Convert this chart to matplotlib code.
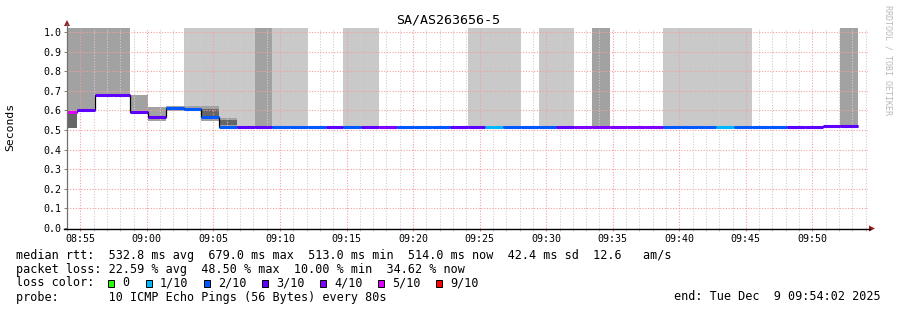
import numpy as np
import matplotlib.pyplot as plt
from matplotlib.patches import Polygon, Rectangle
from matplotlib.lines import Line2D

W, H = 897, 310
MONO = "DejaVu Sans Mono"

title = "SA/AS263656-5"
x_ticks = [0, 5, 10, 15, 20, 25, 30, 35, 40, 45, 50, 55]      # minutes after 08:55
x_labels = ["08:55", "09:00", "09:05", "09:10", "09:15", "09:20",
            "09:25", "09:30", "09:35", "09:40", "09:45", "09:50"]
y_ticks = [0.0, 0.1, 0.2, 0.3, 0.4, 0.5, 0.6, 0.7, 0.8, 0.9, 1.0]

# 80 s steps, first one starts 08:53:26
step = 80 / 60
first_start = -94 / 60

# median rtt (s) per step
median = [0.592, 0.604, 0.677, 0.677, 0.590, 0.565, 0.611, 0.609, 0.565, 0.517,
          0.514, 0.514, 0.514, 0.514, 0.515, 0.514, 0.514, 0.514, 0.513, 0.513,
          0.513, 0.513, 0.513, 0.514, 0.514, 0.514, 0.514, 0.514, 0.514, 0.513,
          0.513, 0.513, 0.513, 0.513, 0.513, 0.513, 0.513, 0.513, 0.513, 0.513,
          0.513, 0.514, 0.514, 0.519, 0.519]
# lost pings out of 10 per step
loss = [5, 3, 3, 3, 3, 3, 2, 2, 2, 2,
        3, 3, 2, 2, 2, 3, 2, 3, 4, 2,
        2, 2, 3, 3, 1, 2, 2, 2, 3, 4,
        4, 4, 4, 4, 2, 2, 2, 1, 2, 2,
        2, 3, 3, 3, 3]

# smoke: medium grey range
mid_idx = [0, 1, 2, 3, 4, 5, 6, 7, 8, 9, 11, 30, 44]
mid_lo = [0.590, 0.604, 0.677, 0.677, 0.590, 0.548, 0.595, 0.595, 0.548, 0.514, 0.514, 0.514, 0.519]
mid_hi = [1.1, 1.1, 1.1, 1.1, 0.680, 0.616, 0.620, 0.620, 0.620, 0.561, 1.1, 1.1, 1.1]
# smoke: light grey, from lo up past the top
light_idx = [7, 8, 9, 10, 12, 13, 16, 17, 23, 24, 25, 27, 28, 34, 35, 36, 37, 38]
light_lo = [0.620, 0.620, 0.561, 0.514, 0.514, 0.514, 0.514, 0.514, 0.514, 0.514,
            0.514, 0.514, 0.514, 0.514, 0.514, 0.514, 0.514, 0.514]
# smoke: dark core
dark_idx = [0, 8, 9]
dark_lo = [0.512, 0.568, 0.528]
dark_hi = [0.590, 0.605, 0.550]

loss_colors = {0: "#26ff00", 1: "#00b8ff", 2: "#0059ff", 3: "#5e00ff",
               4: "#7e00ff", 5: "#dd00ff", 9: "#ff0000"}
legend_keys = [0, 1, 2, 3, 4, 5, 9]
legend_names = ["0", "1/10", "2/10", "3/10", "4/10", "5/10", "9/10"]


def fx(x):
    return x / W


def fy(y):
    return 1 - y / H


fig = plt.figure(figsize=(W / 100, H / 100), dpi=100)
ax = fig.add_axes([fx(67), 82 / H, 801 / W, 200 / H])
left = -11 / (801 / 60)
ax.set_xlim(left, left + 60)
ax.set_ylim(0, 1.0204)

n = len(median)
edges = first_start + step * np.arange(n + 1)
starts = edges[:-1]

ax.bar(starts[light_idx], 1.2 - np.array(light_lo), bottom=light_lo, width=step,
       align="edge", color="#c9c9c9", linewidth=0, zorder=1)
ax.bar(starts[mid_idx], np.array(mid_hi) - np.array(mid_lo), bottom=mid_lo, width=step,
       align="edge", color="#a2a2a2", linewidth=0, zorder=1.1)
ax.bar(starts[dark_idx], np.array(dark_hi) - np.array(dark_lo), bottom=dark_lo, width=step,
       align="edge", color="#666666", linewidth=0, zorder=1.2)

ax.stairs(median, edges, baseline=None, color="black", linewidth=0.9, zorder=3)
ax.hlines(median, starts, edges[1:], colors=[loss_colors[l] for l in loss],
          linewidth=2.2, zorder=4)

# grid and ticks
ax.set_axisbelow(False)
ax.set_xticks(x_ticks)
ax.set_xticklabels(x_labels, family=MONO)
ax.set_xticks([m for m in range(-1, 60) if m % 5], minor=True)
ax.set_yticks(y_ticks)
ax.set_yticklabels([f"{v:.1f}" for v in y_ticks], family=MONO)
ax.grid(which="major", color="#f2a0a0", linestyle=(0, (1, 1.5)), linewidth=0.8)
ax.grid(which="minor", axis="x", color="#cfcfcf", linestyle=(0, (1, 1.5)), linewidth=0.8)
ax.tick_params(which="both", direction="out", labelsize=7.2, width=0.7)
ax.tick_params(axis="x", which="major", length=2.5, color="#e07070", pad=1.5)
ax.tick_params(axis="x", which="minor", length=2, color="#c0c0c0")
ax.tick_params(axis="y", length=2.5, color="#808080", pad=1.5)
for s in ax.spines.values():
    s.set_visible(False)

# axis lines with arrows
fig.add_artist(Line2D([fx(67), fx(67)], [fy(228), fy(24)], color="#707070", lw=0.9))
fig.add_artist(Line2D([fx(64), fx(870)], [fy(228.5), fy(228.5)], color="black", lw=1.0))
arrow_c = "#9b1c1c"
fig.add_artist(Polygon([(fx(64), fy(26)), (fx(70), fy(26)), (fx(67), fy(20))],
                       closed=True, color=arrow_c, lw=0))
fig.add_artist(Polygon([(fx(869), fy(225.5)), (fx(869), fy(231.5)), (fx(875), fy(228.5))],
                       closed=True, color=arrow_c, lw=0))

# texts
fig.text(0.5, fy(23.5), title, ha="center", va="baseline", family=MONO, fontsize=9.6)
fig.text(fx(10), fy(127), "Seconds", rotation=90, ha="center", va="center",
         family=MONO, fontsize=8.2)
fig.text(fx(888), fy(60), "RRDTOOL / TOBI OETIKER", rotation=270, ha="center", va="center",
         family=MONO, fontsize=6, color="#b8b8b8")

lines = [
    "median rtt:  532.8 ms avg  679.0 ms max  513.0 ms min  514.0 ms now  42.4 ms sd  12.6   am/s",
    "packet loss: 22.59 % avg  48.50 % max  10.00 % min  34.62 % now",
    "loss color:",
    "probe:       10 ICMP Echo Pings (56 Bytes) every 80s",
]
baselines = [258.5, 272.5, 286.5, 300.5]
for s, b in zip(lines, baselines):
    fig.text(fx(16), fy(b), s, ha="left", va="baseline", family=MONO, fontsize=8.45)
fig.text(fx(881), fy(300.5), "end: Tue Dec  9 09:54:02 2025", ha="right", va="baseline",
         family=MONO, fontsize=8.45)

sq_x = [107.5, 145.5, 203.5, 261.5, 319.5, 377.5, 435.5]
lab_x = [122.5, 160, 218, 276, 334, 392.5, 450]
for k, name, sx, lx in zip(legend_keys, legend_names, sq_x, lab_x):
    fig.add_artist(Rectangle((fx(sx), fy(286.5)), 6.5 / W, 7 / H,
                             facecolor=loss_colors[k], edgecolor="black", lw=0.7))
    fig.text(fx(lx), fy(286.5), name, ha="left", va="baseline", family=MONO, fontsize=8.45)

fig.savefig("out.png", dpi=100)
